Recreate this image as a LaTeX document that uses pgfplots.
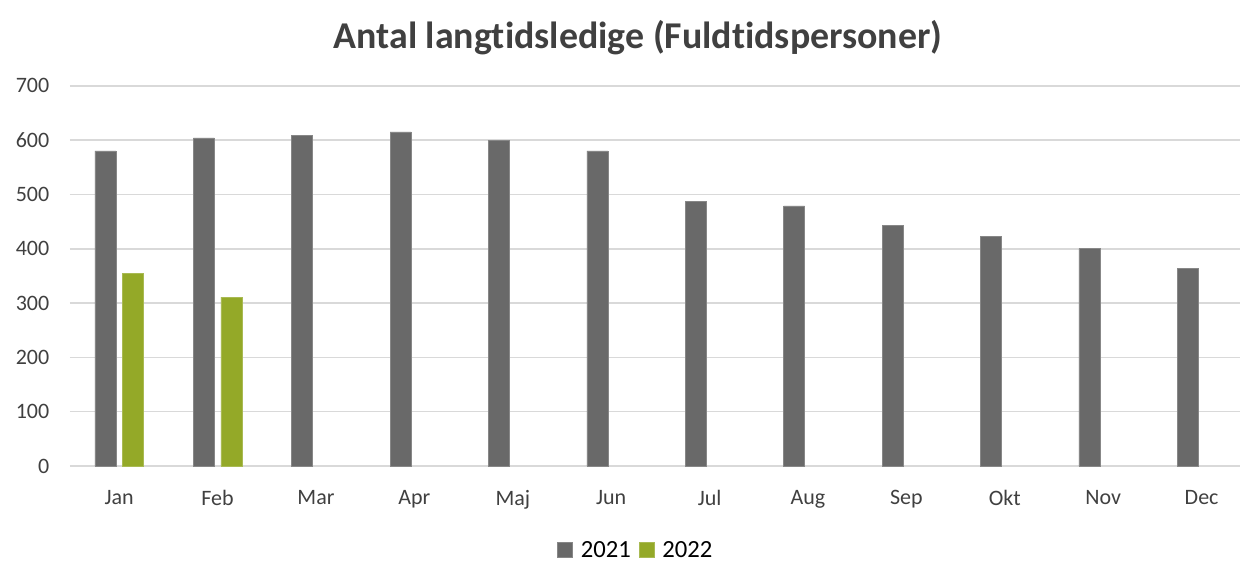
\documentclass[border=0pt]{standalone}
\usepackage{fontspec}
\setmainfont[RawFeature={-liga;-clig;-calt;-dlig;-rlig}]{Carlito}
\usepackage{pgfplots}
\pgfplotsset{compat=1.18}
\definecolor{darkbar}{HTML}{696969}
\definecolor{greenbar}{HTML}{94A928}
\definecolor{gridc}{HTML}{D9D9D9}
\definecolor{tickc}{HTML}{404040}
\begin{document}
\begin{tikzpicture}
\begin{axis}[
  at={(0pt,0pt)}, anchor=south west,
  scale only axis,
  width=877.5pt, height=285.2pt,
  ybar=5pt, bar width=15.75pt,
  xmin=-0.5, xmax=11.39,
  ymin=0, ymax=700,
  ytick={0,100,...,700},
  xtick={0,...,11},
  xticklabels={Jan,Feb,Mar,Apr,Maj,Jun,Jul,Aug,Sep,Okt,Nov,Dec},
  axis line style={draw=none},
  major tick length=0pt,
  ymajorgrids,
  grid style={gridc, line width=1.2pt},
  /pgf/number format/assume math mode=true,
  tick label style={font=\fontsize{16.5pt}{18pt}\selectfont, text=tickc},
  xticklabel style={yshift=-15pt},
  yticklabel style={xshift=-12pt},
  legend columns=2,
  legend style={at={(axis description cs:0.4840,-0.2209)}, anchor=center, draw=none,
    font=\fontsize{18.5pt}{20pt}\selectfont, column sep=4pt},
  legend image code/.code={\fill[#1] (0pt,-5.6pt) rectangle (11.25pt,5.6pt);},
  clip=false,
]
\addplot[fill=darkbar, draw=darkbar!80!white] coordinates {
(0,580) (1,604) (2,608) (3,615) (4,600) (5,580) (6,487) (7,479) (8,443) (9,423) (10,400) (11,364)};
\addplot[fill=greenbar, draw=greenbar!80!white] coordinates {(0,355) (1,311)};
\legend{2021,2022}
\end{axis}
\node[font=\bfseries\fontsize{28.4pt}{32pt}\selectfont, text=tickc] at (426pt,321pt) {Antal langtidsledige (Fuldtidspersoner)};
\pgfresetboundingbox
\path[use as bounding box] (-52.5pt,-72pt) rectangle (877.5pt,349.5pt);
\end{tikzpicture}
\end{document}
